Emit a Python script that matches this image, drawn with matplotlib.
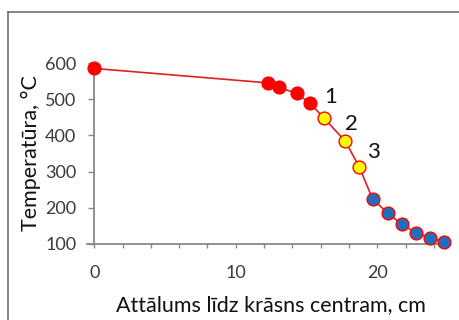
import matplotlib
matplotlib.use("Agg")
import matplotlib.pyplot as plt
from matplotlib.lines import Line2D

# data
dist = [0.0, 12.3, 13.05, 14.3, 15.25, 16.25, 17.72, 18.72, 19.67, 20.76, 21.72, 22.73, 23.72, 24.73]
temp = [585, 545, 533, 516, 489, 447, 385, 314, 224, 185, 155, 131, 117, 106]
groups = ["r", "r", "r", "r", "r", "y", "y", "y", "b", "b", "b", "b", "b", "b"]
labels = ["1", "2", "3"]
label_pts = [(16.25, 447), (17.72, 385), (18.72, 314)]

colors = {"r": "#FF0000", "y": "#FFFF00", "b": "#1F6FC0"}

plt.rcParams['font.family'] = ['Lato', 'DejaVu Sans']

fig = plt.figure(figsize=(4.59, 3.20), dpi=100)
ax = fig.add_axes([94.3 / 459, 1 - 244 / 320, (448 - 94.3) / 459, (244 - 63) / 320])

ax.plot(dist, temp, color="#E02020", lw=1.2, zorder=2, clip_on=False)
for g in ["r", "y", "b"]:
    xs = [d for d, gg in zip(dist, groups) if gg == g]
    ys = [t for t, gg in zip(temp, groups) if gg == g]
    ax.plot(xs, ys, ls="none", marker="o", ms=9.2, mfc=colors[g], mec="#FF0000",
            mew=1.0, zorder=3, clip_on=False)

offsets = [(0, 8), (0, 5), (5.5, 3)]
for lab, (x, y), off in zip(labels, label_pts, offsets):
    ax.annotate(lab, (x, y), xytext=off, textcoords="offset points", fontsize=16,
                color="#111111", ha="left", va="bottom")

ax.set_xlim(0, 25)
ax.set_ylim(100, 600)
ax.set_xticks([0, 10, 20])
ax.set_xticks(range(0, 25, 2), minor=True)
ax.set_yticks([100, 200, 300, 400, 500, 600])
for s in ["top", "right"]:
    ax.spines[s].set_visible(False)
for s in ["left", "bottom"]:
    ax.spines[s].set_color("#888888")
    ax.spines[s].set_linewidth(1.3)
ax.spines["bottom"].set_bounds(-0.5, 24.3)
ax.tick_params(axis="both", which="both", color="#888888", width=1.0, labelsize=13,
               labelcolor="#3a3a3a")
ax.tick_params(axis="x", which="both", length=3, pad=12)
ax.tick_params(axis="y", length=4, pad=9)

ax.set_xlabel("Attālums līdz krāsns centram, cm", fontsize=15.5, color="#111111", labelpad=10)
ax.set_ylabel("Temperatūra, °C", fontsize=15.5, color="#111111", labelpad=3)

fig.add_artist(Line2D([8 / 459, 8 / 459], [0, 1 - 12 / 320], transform=fig.transFigure,
                      color="#707070", lw=1.2))
fig.add_artist(Line2D([8 / 459, 1], [1 - 12 / 320, 1 - 12 / 320], transform=fig.transFigure,
                      color="#707070", lw=1.2))

fig.savefig("out.png", dpi=100)
